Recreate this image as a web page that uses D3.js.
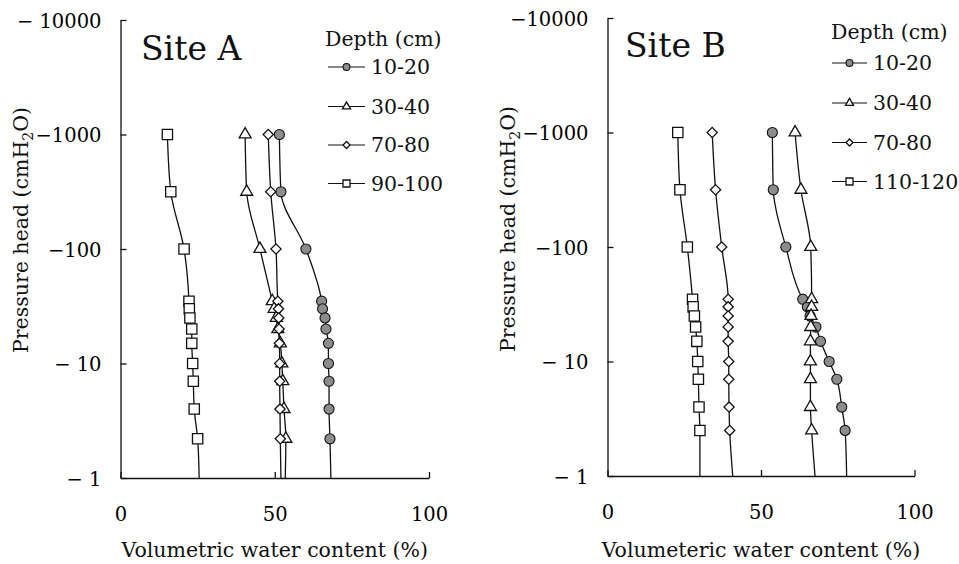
<!DOCTYPE html>
<html>
<head>
<meta charset="utf-8">
<script src="https://cdn.jsdelivr.net/npm/d3@7"></script>
<style>
  html, body { margin: 0; padding: 0; background: #fff; }
  svg { display: block; }
</style>
</head>
<body>
<svg id="chart" width="959" height="564"></svg>
<script>
// Pressure heads (magnitude of suction, cmH2O) at which water content was measured
const headsA = [1000, 316, 100, 35, 30, 25, 20, 15, 10, 7, 4, 2.2];
const headsB = [1000, 316, 100, 35, 30, 25, 20, 15, 10, 7, 4, 2.5];

// Sampling depths (cm)
const depthsA = ["10-20", "30-40", "70-80", "90-100"];
const depthsB = ["10-20", "30-40", "70-80", "110-120"];

// Volumetric water content (%) — Site A
const siteA_10_20  = [51.5, 52.0, 60.1, 65.2, 65.5, 66.3, 66.6, 67.4, 67.4, 67.6, 67.6, 67.9];
const siteA_30_40  = [40.4, 40.9, 45.2, 49.2, 49.8, 50.5, 51.0, 51.8, 52.3, 52.6, 53.0, 53.6];
const siteA_70_80  = [47.9, 48.7, 50.4, 51.0, 51.2, 51.3, 51.4, 51.5, 51.6, 51.6, 51.7, 51.8];
const siteA_90_100 = [15.2, 16.3, 20.6, 22.2, 22.3, 22.5, 23.1, 23.1, 23.4, 23.6, 23.9, 25.0];

// Volumetric water content (%) — Site B
const siteB_10_20   = [53.7, 54.0, 58.1, 63.6, 65.1, 66.0, 67.9, 69.4, 72.2, 74.7, 76.3, 77.4];
const siteB_30_40   = [61.1, 63.0, 66.2, 66.5, 66.5, 66.3, 66.2, 66.1, 66.1, 66.1, 66.1, 66.5];
const siteB_70_80   = [34.1, 35.2, 37.2, 39.3, 39.3, 39.3, 39.3, 39.3, 39.5, 39.5, 39.6, 39.8];
const siteB_110_120 = [22.9, 23.6, 26.0, 27.7, 27.9, 28.3, 28.7, 29.1, 29.4, 29.6, 29.8, 30.1];

// Water content where each curve reaches the -1 cmH2O end of the axis
const nearSatA = [68.2, 53.4, 52.0, 25.5];
const nearSatB = [77.9, 67.6, 40.8, 30.1];

// Axis ticks
const headTicks = [10000, 1000, 100, 10, 1];
const headLabelsA = ["\u2212 10000", "\u22121000", "\u2212100", "\u2212 10", "\u2212 1"];
const headLabelsB = ["\u221210000", "\u22121000", "\u2212100", "\u2212 10", "\u2212 1"];
const wcTicks = [0, 50, 100];
const wcLabels = ["0", "50", "100"];

const markerKinds = ["circle", "triangle", "diamond", "square"];

const FONT = "DejaVu Serif";
const svg = d3.select("#chart");

function markerPath(kind, scale) {
  const s = scale;
  switch (kind) {
    case "circle":   return d3.symbol(d3.symbolCircle, 80 * s * s)();
    case "triangle": return d3.symbol(d3.symbolTriangle, 62 * s * s)();
    case "diamond":  return d3.symbol(d3.symbolSquare, 52 * s * s)();
    default:         return d3.symbol(d3.symbolSquare, 106 * s * s)();
  }
}

function drawMarker(g, kind, cx, cy, scale) {
  g.append("path")
    .attr("d", markerPath(kind, scale))
    .attr("transform", `translate(${cx},${cy})` + (kind === "diamond" ? " rotate(45)" : ""))
    .attr("fill", kind === "circle" ? "#8c8c8c" : "#fff")
    .attr("stroke", "#111")
    .attr("stroke-width", kind === "circle" ? 1.1 : 1.3);
}

function styleText(sel, size) {
  return sel.attr("font-family", FONT).attr("font-size", size).attr("fill", "#111");
}

function drawPanel(p) {
  const g = svg.append("g");
  const x = d3.scaleLinear().domain([0, 100]).range(p.xRange);
  const y = d3.scaleLog().domain([1, 10000]).range(p.yRange);

  // Left (pressure head) axis, ticks pointing inward
  const yAxis = g.append("g")
    .attr("transform", `translate(${p.xRange[0]},0)`)
    .call(d3.axisLeft(y).tickValues(headTicks)
      .tickFormat((d, i) => p.headLabels[i])
      .tickSizeInner(-6).tickSizeOuter(0).tickPadding(19));
  styleText(yAxis, 19.5);
  yAxis.selectAll("text").attr("dy", "0.36em");

  // Bottom (water content) axis
  const xAxis = g.append("g")
    .attr("transform", `translate(0,${p.yRange[0]})`)
    .call(d3.axisBottom(x).tickValues(wcTicks)
      .tickFormat((d, i) => wcLabels[i])
      .tickSizeInner(-6).tickSizeOuter(0));
  styleText(xAxis, 19.5);
  xAxis.selectAll("text").attr("y", 43).attr("dy", null);

  g.selectAll(".domain, .tick line").attr("stroke", "#111").attr("stroke-width", 1.3);

  // Retention curves, smoothed through the measured points
  const line = d3.line()
    .x(d => x(d.wc)).y(d => y(d.h))
    .curve(d3.curveMonotoneY);

  p.series.forEach((vals, si) => {
    const pts = vals.map((v, i) => ({ h: p.heads[i], wc: v }));
    const full = pts.concat([{ h: 1, wc: p.nearSat[si] }]);
    g.append("path").datum(full)
      .attr("d", line)
      .attr("fill", "none")
      .attr("stroke", "#111")
      .attr("stroke-width", 1.3);
  });

  p.series.forEach((vals, si) => {
    vals.forEach((v, i) => drawMarker(g, markerKinds[si], x(v), y(p.heads[i]), 1));
  });

  // Site title
  styleText(g.append("text"), 33)
    .attr("x", p.titlePos[0]).attr("y", p.titlePos[1])
    .text(p.title);

  // Legend
  const lg = g.append("g");
  styleText(lg.append("text"), 20.5)
    .attr("x", p.legend.headX).attr("y", p.legend.headY)
    .text("Depth (cm)");
  p.depths.forEach((d, i) => {
    const cy = p.legend.rows[i];
    lg.append("line")
      .attr("x1", p.legend.x0).attr("x2", p.legend.x1)
      .attr("y1", cy).attr("y2", cy)
      .attr("stroke", "#111").attr("stroke-width", 1.2);
    drawMarker(lg, markerKinds[i], (p.legend.x0 + p.legend.x1) / 2, cy, 0.68);
    styleText(lg.append("text"), 20.5)
      .attr("x", p.legend.textX).attr("y", cy).attr("dy", "0.36em")
      .text(d);
  });

  // Axis titles
  styleText(g.append("text"), 20.5)
    .attr("x", (p.xRange[0] + p.xRange[1]) / 2).attr("y", 557)
    .attr("text-anchor", "middle")
    .text(p.xTitle);

  const yt = styleText(g.append("text"), 20.5)
    .attr("transform", `translate(${p.yTitlePos[0]},${p.yTitlePos[1]}) rotate(-90)`)
    .attr("text-anchor", "middle");
  yt.append("tspan").text("Pressure head (cmH");
  yt.append("tspan").attr("font-size", 14).attr("dy", 5).text("2");
  yt.append("tspan").attr("dy", -5).text("O)");
}

drawPanel({
  title: "Site A",
  titlePos: [141, 60],
  heads: headsA,
  series: [siteA_10_20, siteA_30_40, siteA_70_80, siteA_90_100],
  nearSat: nearSatA,
  depths: depthsA,
  headLabels: headLabelsA,
  xRange: [120.5, 429],
  yRange: [478, 20],
  xTitle: "Volumetric water content (%)",
  yTitlePos: [28, 230],
  legend: { headX: 325, headY: 46, x0: 328, x1: 365, textX: 371, rows: [67, 106.5, 145, 183.5] }
});

drawPanel({
  title: "Site B",
  titlePos: [625, 57],
  heads: headsB,
  series: [siteB_10_20, siteB_30_40, siteB_70_80, siteB_110_120],
  nearSat: nearSatB,
  depths: depthsB,
  headLabels: headLabelsB,
  xRange: [607.5, 914.5],
  yRange: [476, 18],
  xTitle: "Volumeteric water content (%)",
  yTitlePos: [515, 229],
  legend: { headX: 831, headY: 39, x0: 832, x1: 867, textX: 873, rows: [63, 103, 142.5, 181.5] }
});
</script>
</body>
</html>
